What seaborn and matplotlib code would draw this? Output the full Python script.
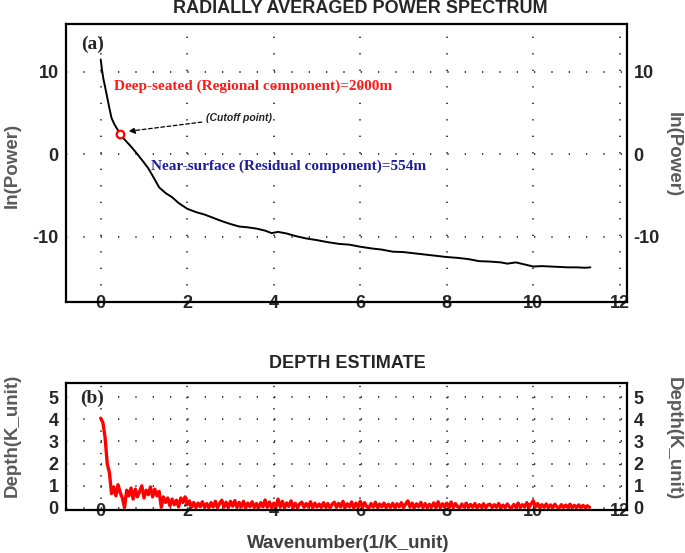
import numpy as np
import pandas as pd
import matplotlib
matplotlib.use("Agg")
import matplotlib.pyplot as plt
import seaborn as sns

# ---------------- data ----------------
power_k = [0.00, 0.03, 0.06, 0.10, 0.15, 0.20, 0.25, 0.32, 0.40, 0.45, 0.55, 0.70, 0.85,
           1.00, 1.10, 1.20, 1.35, 1.50, 1.65, 1.80, 2.00, 2.20, 2.40, 2.60, 2.80, 3.00,
           3.20, 3.40, 3.60, 3.80, 3.95, 4.10, 4.30, 4.50, 4.75, 5.00, 5.25, 5.50, 5.75,
           6.00, 6.25, 6.50, 6.75, 7.00, 7.25, 7.50, 7.75, 8.00, 8.25, 8.50, 8.75, 9.00,
           9.25, 9.40, 9.60, 9.80, 10.00, 10.20, 10.40, 10.60, 10.80, 11.00, 11.20, 11.32]
ln_power = [11.5, 10.2, 9.2, 8.2, 6.9, 5.6, 4.4, 3.6, 2.9, 2.5, 1.8, 0.95, 0.0,
            -1.0, -1.7, -2.6, -4.0, -4.7, -5.2, -5.9, -6.6, -7.0, -7.3, -7.7, -8.1, -8.45,
            -8.75, -8.85, -9.0, -9.25, -9.55, -9.4, -9.6, -9.9, -10.2, -10.4, -10.65, -10.85, -10.95,
            -11.2, -11.4, -11.55, -11.8, -11.85, -12.0, -12.15, -12.3, -12.45, -12.55, -12.7, -12.95, -13.0,
            -13.1, -13.25, -13.1, -13.35, -13.6, -13.55, -13.6, -13.65, -13.7, -13.7, -13.75, -13.7]

cutoff_k = [0.45]
cutoff_p = [2.5]

depth_k_start, depth_k_step = 0.0, 0.05
depth = [4.05, 3.85, 3.2, 2.0, 1.6, 0.65, 0.95, 0.55, 1.05, 0.7, 0.45, 0.02, 0.8, 0.55, 0.9, 0.4,
         0.85, 0.5, 0.75, 1.0, 0.45, 0.8, 0.6, 0.95, 0.5, 0.85, 0.55, 0.75, 0.03, 0.5, 0.25, 0.45,
         0.1, 0.4, 0.15, 0.35, 0.05, 0.45, 0.25, 0.5, 0.15,
         0.32, 0.04, 0.25, 0.02, 0.22, 0.06, 0.28, 0.03, 0.2, 0.01, 0.24, 0.05, 0.3, 0.02, 0.21, 0.35, 0.04, 0.26, 0.01, 0.3,
         0.08, 0.33, 0.03, 0.25, 0.05, 0.3, 0.01, 0.22, 0.06, 0.28, 0.02, 0.2, 0.01, 0.24, 0.05, 0.36, 0.03, 0.27, 0.02, 0.22,
         0.06, 0.4, 0.04, 0.3, 0.01, 0.23, 0.07, 0.32, 0.02, 0.21, 0.01, 0.19, 0.26, 0.03, 0.2, 0.05, 0.28, 0.01, 0.22, 0.04,
         0.18, 0.02, 0.24, 0.04, 0.2, 0.01, 0.17, 0.26, 0.03, 0.21, 0.05, 0.3, 0.02, 0.19, 0.05, 0.27, 0.01, 0.22, 0.04, 0.3,
         0.03, 0.24, 0.06, 0.01, 0.2, 0.04, 0.26, 0.02, 0.18, 0.05, 0.22, 0.01, 0.17, 0.03, 0.21, 0.02, 0.19, 0.05, 0.24, 0.02,
         0.18, 0.32, 0.04, 0.22, 0.01, 0.19, 0.05, 0.25, 0.02, 0.2, 0.01, 0.17, 0.04, 0.23, 0.02, 0.28, 0.01, 0.19, 0.05, 0.22,
         0.03, 0.27, 0.02, 0.2, 0.06, 0.01, 0.18, 0.04, 0.22, 0.02, 0.16, 0.03, 0.2, 0.01, 0.15, 0.03, 0.19, 0.01, 0.14, 0.17,
         0.02, 0.15, 0.03, 0.2, 0.01, 0.13, 0.02, 0.18, 0.04, 0.01, 0.16, 0.03, 0.22, 0.02, 0.15, 0.04, 0.24, 0.02, 0.18, 0.33,
         0.04, 0.2, 0.02, 0.15, 0.03, 0.18, 0.01, 0.14, 0.02, 0.17, 0.04, 0.01, 0.15, 0.02, 0.13, 0.03, 0.17, 0.01, 0.12, 0.02,
         0.14, 0.01, 0.12, 0.02, 0.1, 0.03]
depth_k = np.round(depth_k_start + depth_k_step * np.arange(len(depth)), 2)

x_ticks = [0, 2, 4, 6, 8, 10, 12]
top_y_ticks = [-10, 0, 10]
bot_y_ticks = [0, 1, 2, 3, 4, 5]

titles = ["RADIALLY AVERAGED POWER SPECTRUM", "DEPTH ESTIMATE"]
label_regional = "Deep-seated (Regional component)=2000m"
label_residual = "Near-surface (Residual component)=554m"

# ---------------- style ----------------
sns.set_theme(style="white")
plt.rcParams["font.family"] = ["Liberation Sans", "DejaVu Sans"]
plt.rcParams["axes.linewidth"] = 1.6
plt.rcParams["axes.edgecolor"] = "black"
plt.rcParams["axes.unicode_minus"] = False

fig = plt.figure(figsize=(6.85, 5.53), dpi=100)
ax1 = fig.add_axes([0.0959, 0.4539, 0.819, 0.5027])
ax2 = fig.add_axes([0.0959, 0.0778, 0.819, 0.2302])

gray = "#5a5a5a"
serif = ["Liberation Serif", "DejaVu Serif"]

# --- top panel ---
df_p = pd.DataFrame({"k": power_k, "p": ln_power})
sns.lineplot(data=df_p, x="k", y="p", ax=ax1, color="black", lw=1.4, sort=False)
ax1.plot(cutoff_k, cutoff_p, "o", mfc="white", mec="red", mew=1.6, ms=5.5, zorder=5)
ax1.annotate("", xy=(0.58, 2.75), xytext=(2.4, 3.95),
             arrowprops=dict(arrowstyle="-|>", linestyle=(0, (3, 2)), color="black", lw=0.9,
                             mutation_scale=9))
ax1.text(2.43, 4.35, "(Cutoff point)", fontsize=7.5, style="italic", fontweight="bold",
         ha="left", va="center", color="#222222")
ax1.text(0.31, 8.2, label_regional, color="#ff1a1a", fontsize=11, fontweight="bold",
         family=serif, ha="left", va="center")
ax1.text(1.16, -1.5, label_residual, color="#1c1c99", fontsize=11, fontweight="bold",
         family=serif, ha="left", va="center")
ax1.text(-0.2, 13.3, "(a)", fontsize=14, fontweight="bold", family=serif,
         ha="center", va="center")
ax1.set_xlim(-0.81, 12.16)
ax1.set_ylim(-17.9, 15.8)
ax1.set_yticks(top_y_ticks)
ax1.set_xticks(x_ticks)

# --- bottom panel ---
df_d = pd.DataFrame({"k": depth_k, "d": depth})
sns.lineplot(data=df_d, x="k", y="d", ax=ax2, color="#ff0000", lw=2.4, sort=False)
ax2.text(-0.2, 4.95, "(b)", fontsize=14, fontweight="bold", family=serif,
         ha="center", va="center")
ax2.set_xlim(-0.81, 12.16)
ax2.set_ylim(-0.09, 5.65)
ax2.set_yticks(bot_y_ticks)
ax2.set_xticks(x_ticks)

for ax, vdash in ((ax1, (0, (0.8, 9.1))), (ax2, (0, (0.8, 5.9)))):
    ax.set_xlabel("")
    ax.set_ylabel("")
    ax.xaxis.grid(True, color="#222222", lw=1.2, linestyle=vdash)
    ax.yaxis.grid(True, color="#222222", lw=1.2, linestyle=(0, (0.8, 9.6)))
    ax.set_axisbelow(True)
    ax.tick_params(axis="y", which="both", left=False, right=False, length=0,
                   labelleft=True, labelright=True, pad=5, labelsize=13)
    ax.tick_params(axis="x", which="both", bottom=False, length=0, pad=-5, labelsize=13)
    for sp in ax.spines.values():
        sp.set_visible(True)
        sp.set_color("black")
        sp.set_linewidth(1.6)
    for t in ax.yaxis.get_major_ticks():
        t.label1.set_fontweight("bold")
        t.label2.set_fontweight("bold")
    for t in ax.xaxis.get_major_ticks():
        t.label1.set_fontweight("bold")

# titles and axis labels
fig.text(0.526, 0.985, titles[0], ha="center", va="center", fontsize=13, fontweight="bold")
fig.text(0.507, 0.343, titles[1], ha="center", va="center", fontsize=13, fontweight="bold")
fig.text(0.018, 0.70, "ln(Power)", rotation=90, ha="center", va="center",
         fontsize=13.5, fontweight="bold", color=gray)
fig.text(0.983, 0.72, "ln(Power)", rotation=270, ha="center", va="center",
         fontsize=13.5, fontweight="bold", color=gray)
fig.text(0.018, 0.213, "Depth(K_unit)", rotation=90, ha="center", va="center",
         fontsize=13.5, fontweight="bold", color=gray)
fig.text(0.983, 0.206, "Depth(K_unit)", rotation=270, ha="center", va="center",
         fontsize=13.5, fontweight="bold", color=gray)
fig.text(0.509, 0.018, "Wavenumber(1/K_unit)", ha="center", va="center",
         fontsize=13.5, fontweight="bold", color="#404040")

fig.savefig("out.png", dpi=100)
